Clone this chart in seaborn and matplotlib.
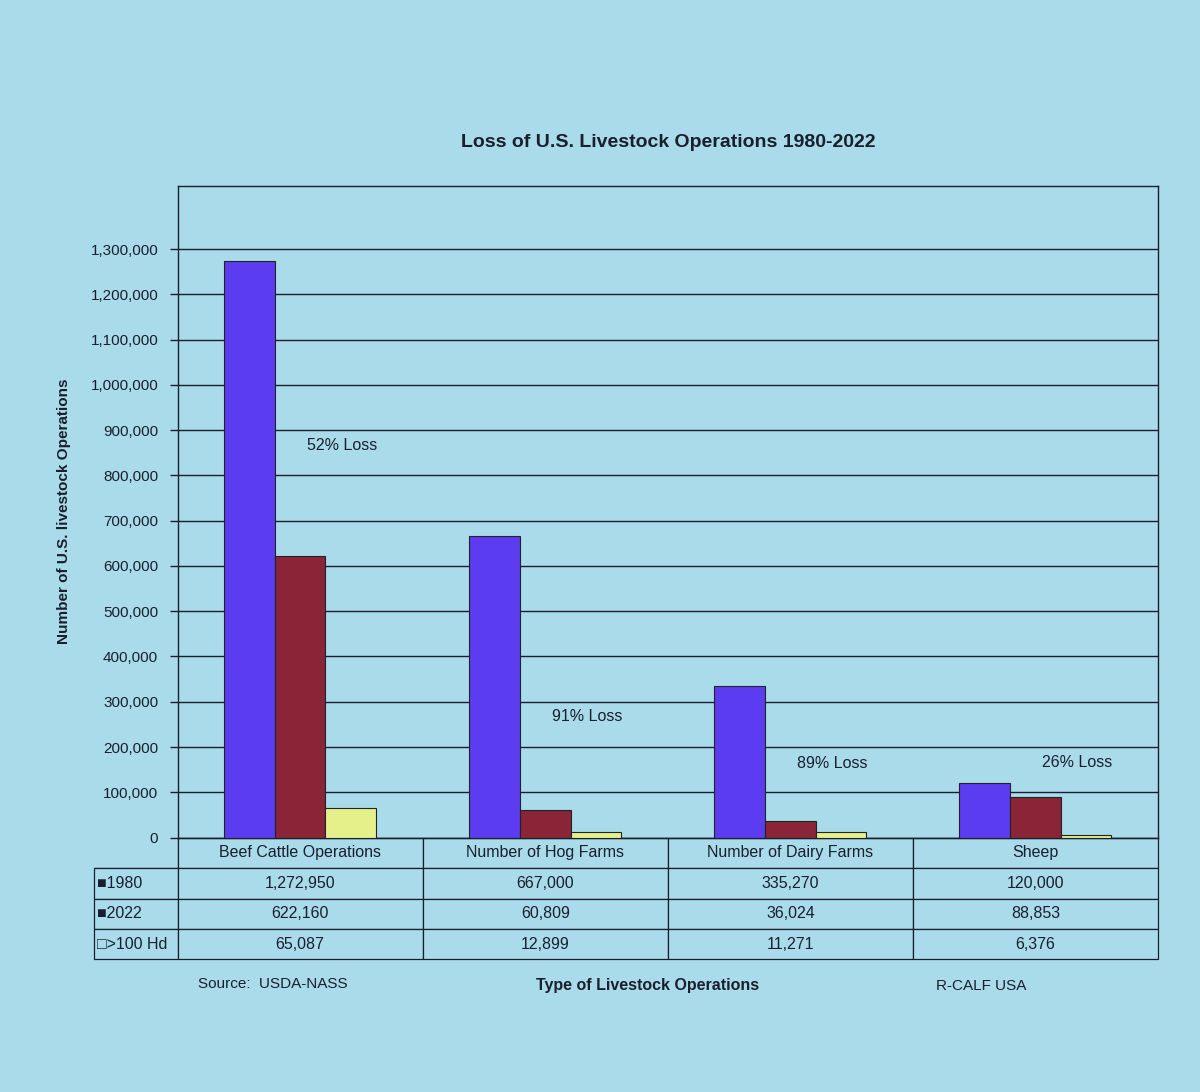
import pandas as pd
import numpy as np
import matplotlib
matplotlib.use("Agg")
import matplotlib.pyplot as plt
import seaborn as sns

kategoriler = ["Beef Cattle Operations", "Number of Hog Farms", "Number of Dairy Farms", "Sheep"]
seriler = ["1980", "2022", ">100 Hd"]
yil_1980 = [1272950, 667000, 335270, 120000]
yil_2022 = [622160, 60809, 36024, 88853]
buyuk_100 = [65087, 12899, 11271, 6376]
kayip_etiket = ["52% Loss", "91% Loss", "89% Loss", "26% Loss"]
kayip_konum = [850000, 250000, 148000, 150000]
tablo_etiket = ["■1980", "■2022", "□>100 Hd"]

arka = "#a9dbea"
renkler = ["#5b3cf0", "#8a2538", "#e6f08a"]

veri = pd.DataFrame({
    "Tür": kategoriler * 3,
    "Seri": [s for s in seriler for _ in kategoriler],
    "Değer": yil_1980 + yil_2022 + buyuk_100,
})

sns.set_style("white")
plt.rcParams["font.family"] = ["Liberation Sans", "DejaVu Sans"]
plt.rcParams["text.color"] = "#1a1f2e"

fig = plt.figure(figsize=(12, 10.92), dpi=100, facecolor=arka)
ax = fig.add_axes([0.148, 0.233, 0.817, 0.597])
ax.set_facecolor(arka)

sns.barplot(data=veri, x="Tür", y="Değer", hue="Seri", palette=renkler,
            width=0.62, gap=0, edgecolor="#222222", linewidth=0.8,
            saturation=1, legend=False, ax=ax, zorder=3)

ax.set_ylim(0, 1440000)
ax.set_xlim(-0.5, 3.5)
ax.set_yticks(np.arange(0, 1300001, 100000))
ax.set_yticklabels([f"{v:,}" for v in range(0, 1300001, 100000)], fontsize=11, color="#1a1f2e")
ax.yaxis.grid(True, color="#1a1f2e", linewidth=1.0, zorder=0)
ax.set_axisbelow(True)
ax.tick_params(axis="y", direction="out", length=6, width=1, color="#1a1f2e", pad=8, left=True)
ax.set_xticks([])
ax.set_xlabel("")
ax.set_ylabel("Number of U.S. livestock Operations", fontsize=11, labelpad=14,
              color="#1a1f2e", fontweight="semibold")
for s in ax.spines.values():
    s.set_color("#1a1f2e")
    s.set_linewidth(1.0)
    s.set_visible(True)

for i, (t, yv) in enumerate(zip(kayip_etiket, kayip_konum)):
    ax.text(i + 0.17, yv, t, fontsize=11.5, ha="center", va="bottom", color="#1a1f2e")

ax.set_title("Loss of U.S. Livestock Operations 1980-2022", fontsize=14, pad=28,
             color="#1a1f2e", fontweight="semibold")

hucreler = [[""] + kategoriler]
for etiket, seri in zip(tablo_etiket, [yil_1980, yil_2022, buyuk_100]):
    hucreler.append([etiket] + [f"{v:,}" for v in seri])

tablo = ax.table(cellText=hucreler, cellLoc="center",
                 colWidths=[0.085, 0.25, 0.25, 0.25, 0.25],
                 bbox=[-0.085, -0.187, 1.085, 0.187])
tablo.auto_set_font_size(False)
for (r, c), cell in tablo.get_celld().items():
    cell.set_facecolor(arka)
    cell.set_edgecolor("#1a1f2e")
    cell.set_linewidth(0.9)
    cell.get_text().set_fontsize(11.5)
    cell.get_text().set_color("#1a1f2e")
    if c == 0:
        cell.get_text().set_ha("left")
        cell.PAD = 0.03
    if r == 0 and c == 0:
        cell.visible_edges = "BR"

fig.text(0.165, 0.095, "Source:  USDA-NASS", fontsize=11, color="#1a1f2e")
fig.text(0.54, 0.093, "Type of Livestock Operations", fontsize=11.5, ha="center",
         color="#1a1f2e", fontweight="semibold")
fig.text(0.78, 0.093, "R-CALF USA", fontsize=11, color="#1a1f2e")

plt.savefig("out.png", dpi=100, facecolor=arka)
